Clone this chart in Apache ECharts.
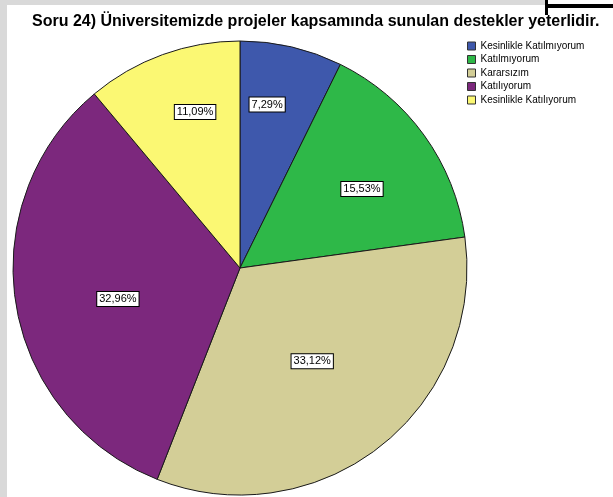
<!DOCTYPE html>
<html>
<head>
<meta charset="utf-8">
<script src="https://cdn.jsdelivr.net/npm/echarts@6/dist/echarts.min.js"></script>
<style>
  html, body { margin: 0; padding: 0; background: #fff; }
  #main { width: 613px; height: 497px; }
</style>
</head>
<body>
<div id="main"></div>
<script>
// data
var categories = ['Kesinlikle Katılmıyorum', 'Katılmıyorum', 'Kararsızım', 'Katılıyorum', 'Kesinlikle Katılıyorum'];
var percents = [7.29, 15.53, 33.12, 32.96, 11.09];
var titleText = 'Soru 24) Üniversitemizde projeler kapsamında sunulan destekler yeterlidir.';

var colors = ['#3E58AC', '#2EB848', '#D3CE97', '#7C287D', '#FBF873'];
// label placement: share of radius, and a small turn (degrees) off the slice middle
var labelReach = [0.73, 0.64, 0.52, 0.555, 0.715];
var labelTurn = [-3.7, 2.9, 0.5, -5, 3.9];

var cx = 240, cy = 268, R = 227;
var total = percents.reduce(function (a, b) { return a + b; }, 0);
var font = 'Arial, "Liberation Sans", sans-serif';

var myChart = echarts.init(document.getElementById('main'));

var pieData = categories.map(function (name, i) {
    return { name: name, value: percents[i], itemStyle: { color: colors[i] } };
});

var option = {
    backgroundColor: '#fff',
    animation: false,
    title: {
        text: titleText,
        left: 32,
        top: 14,
        padding: 0,
        textStyle: {
            fontFamily: font,
            fontSize: 16,
            fontWeight: 'bold',
            color: '#000'
        }
    },
    legend: {
        orient: 'vertical',
        left: 467,
        top: 41,
        padding: 0,
        itemWidth: 8,
        itemHeight: 8,
        itemGap: 3.5,
        icon: 'rect',
        itemStyle: { borderColor: '#333', borderWidth: 1 },
        textStyle: {
            fontFamily: font,
            fontSize: 10,
            color: '#000'
        },
        data: categories
    },
    graphic: [
        // grey frame on left and top, black corner top-right
        { type: 'rect', shape: { x: 0, y: 0, width: 7, height: 497 }, style: { fill: '#d9d9d9' }, silent: true },
        { type: 'rect', shape: { x: 0, y: 0, width: 545, height: 5 }, style: { fill: '#d9d9d9' }, silent: true },
        { type: 'rect', shape: { x: 545, y: 0, width: 3, height: 15 }, style: { fill: '#000' }, silent: true },
        { type: 'rect', shape: { x: 545, y: 4, width: 68, height: 4 }, style: { fill: '#000' }, silent: true }
    ],
    series: [{
        type: 'pie',
        center: [cx, cy],
        radius: R,
        startAngle: 90,
        clockwise: true,
        itemStyle: { borderColor: '#1a1a1a', borderWidth: 1 },
        emphasis: { disabled: true },
        label: {
            show: true,
            position: 'inside',
            formatter: function (p) {
                return p.value.toFixed(2).replace('.', ',') + '%';
            },
            fontFamily: font,
            fontSize: 11,
            color: '#000',
            backgroundColor: '#fff',
            borderColor: '#000',
            borderWidth: 1,
            padding: [2, 2, 1, 2]
        },
        labelLine: { show: false },
        labelLayout: function (params) {
            var i = params.dataIndex;
            var before = 0;
            for (var k = 0; k < i; k++) before += percents[k];
            var mid = (before + percents[i] / 2) / total * Math.PI * 2 + labelTurn[i] * Math.PI / 180;
            var r = R * labelReach[i];
            return {
                x: cx + r * Math.sin(mid),
                y: cy - r * Math.cos(mid),
                align: 'center',
                verticalAlign: 'middle'
            };
        },
        data: pieData
    }]
};

myChart.setOption(option);
</script>
</body>
</html>
